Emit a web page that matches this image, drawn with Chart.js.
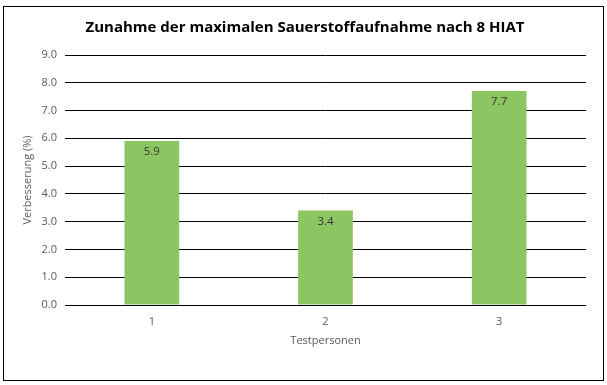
<!DOCTYPE html>
<html lang="de">
<head>
<meta charset="UTF-8">
<title>Zunahme der maximalen Sauerstoffaufnahme</title>
<script src="https://cdn.jsdelivr.net/npm/chart.js"></script>
<style>
  html, body { margin: 0; padding: 0; background: #fff; }
  #wrap { position: relative; width: 607px; height: 385px; }
</style>
</head>
<body>
<div id="wrap">
  <canvas id="myChart" width="607" height="385"></canvas>
</div>
<script>
// daten
var personen = ['1', '2', '3'];
var verbesserung = [5.9, 3.4, 7.7];
var yTicks = [0, 1, 2, 3, 4, 5, 6, 7, 8, 9];
var titel = 'Zunahme der maximalen Sauerstoffaufnahme nach 8 HIAT';

var FONT = "'Open Sans', 'Noto Sans', sans-serif";

// rahmen + titel
var framePlugin = {
  id: 'frame',
  beforeDraw: function(chart) {
    var c = chart.ctx;
    c.save();
    c.fillStyle = '#fff';
    c.fillRect(0, 0, chart.width, chart.height);
    c.strokeStyle = '#000';
    c.lineWidth = 1;
    c.strokeRect(3.5, 6.5, 600, 374);
    c.font = 'bold 15px ' + FONT;
    c.fillStyle = '#000';
    c.textAlign = 'center';
    c.textBaseline = 'middle';
    c.fillText(titel, 305, 28);
    c.restore();
  }
};

// werte oben in den balken schreiben
var valuePlugin = {
  id: 'values',
  afterDatasetsDraw: function(chart) {
    var c = chart.ctx;
    var meta = chart.getDatasetMeta(0);
    c.save();
    c.font = '11.5px ' + FONT;
    c.fillStyle = '#333';
    c.textAlign = 'center';
    c.textBaseline = 'middle';
    meta.data.forEach(function(bar, i) {
      c.fillText(verbesserung[i].toFixed(1), bar.x, bar.y + 11);
    });
    c.restore();
  }
};

new Chart(document.getElementById('myChart'), {
  type: 'bar',
  data: {
    labels: personen,
    datasets: [{
      label: 'Verbesserung',
      data: verbesserung,
      backgroundColor: '#8cc663',
      borderWidth: 0,
      barPercentage: 0.63,
      categoryPercentage: 0.5
    }]
  },
  options: {
    responsive: false,
    animation: false,
    layout: { padding: { left: 15, right: 21, top: 55, bottom: 35 } },
    plugins: {
      legend: { display: false },
      tooltip: { enabled: false },
      title: { display: false }
    },
    scales: {
      x: {
        grid: { display: false, drawTicks: false },
        border: { display: false },
        ticks: { color: '#595959', font: { family: FONT, size: 11 }, padding: 10 },
        title: {
          display: true,
          text: 'Testpersonen',
          color: '#595959',
          font: { family: FONT, size: 11 },
          padding: { top: 0, bottom: 3 }
        },
        afterFit: function(scale) { scale.height = 45; }
      },
      y: {
        min: 0,
        max: 9,
        afterBuildTicks: function(scale) {
          scale.ticks = yTicks.map(function(v) { return { value: v }; });
        },
        grid: { color: '#000', lineWidth: 1, drawTicks: false },
        border: { display: false },
        ticks: {
          color: '#595959',
          font: { family: FONT, size: 11 },
          padding: 8,
          callback: function(v) { return v.toFixed(1); }
        },
        title: {
          display: true,
          text: 'Verbesserung (%)',
          color: '#595959',
          font: { family: FONT, size: 11 },
          padding: { top: 6, bottom: 0 }
        },
        afterFit: function(scale) { scale.width = 50; }
      }
    }
  },
  plugins: [framePlugin, valuePlugin]
});
</script>
</body>
</html>
